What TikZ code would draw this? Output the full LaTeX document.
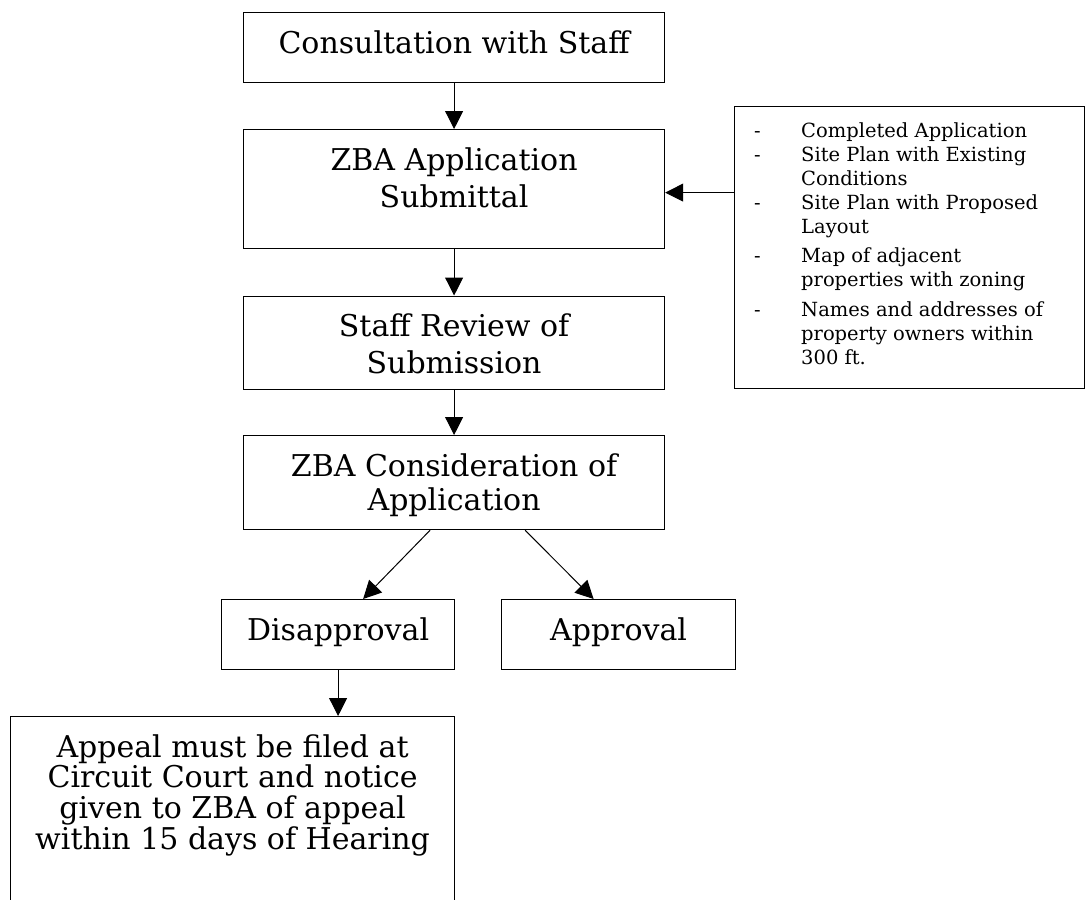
\documentclass[tikz,border=0pt]{standalone}
\usepackage{fontspec}
\setmainfont{DejaVu Serif}
\usetikzlibrary{arrows.meta,calc}
\newcommand{\bxt}[4]{\parbox[b][#2][t]{#1}{\centering\fontsize{30}{#3}\selectfont\rule{0pt}{40.5pt}#4\par}}
\begin{document}
\begin{tikzpicture}[x=1pt,y=-1pt,
  box/.style={draw=black, line width=1.2pt, inner sep=0pt, anchor=north west},
  arr/.style={draw=black, line width=1pt, -{Triangle[length=18pt,width=18pt]}}]
\clip (0,0) rectangle (1085,900);
\node[box] (cons) at (243,12) {\bxt{421pt}{70pt}{34pt}{Consultation with Staff}};
\node[box] (app) at (243,129) {\bxt{421pt}{119pt}{37.7pt}{ZBA Application\\Submittal}};
\node[box] (staff) at (243,295.5) {\bxt{421pt}{93pt}{36.7pt}{Staff Review of\\Submission}};
\node[box] (zcons) at (243,435) {\bxt{421pt}{94pt}{34.3pt}{ZBA Consideration of\\Application}};
\node[box] (dis) at (221,599) {\bxt{233pt}{70pt}{34pt}{Disapproval}};
\node[box] (appr) at (501,599) {\bxt{234pt}{70pt}{34pt}{Approval}};
\node[box] (appeal) at (10,716) {\bxt{444pt}{220pt}{30.7pt}{Appeal must be filed at\\Circuit Court and notice\\given to ZBA of appeal\\within 15 days of Hearing}};
\node[box, minimum width=350pt, minimum height=282pt] (req) at (734,106) {};
\node[anchor=north west, inner sep=0pt, font=\fontsize{19.5}{24}\selectfont] (reqtext) at (754,120.2) {%
\begin{tabular}{@{}p{47pt}@{}l@{}}
- & Completed Application\\
- & Site Plan with Existing\\
  & Conditions\\
- & Site Plan with Proposed\\
  & Layout\\[5pt]
- & Map of adjacent\\
  & properties with zoning\\[6pt]
- & Names and addresses of\\
  & property owners within\\
  & 300 ft.
\end{tabular}};
\draw[arr] (cons.south) -- (app.north);
\draw[arr] (app.south) -- (staff.north);
\draw[arr] (staff.south) -- (zcons.north);
\draw[arr] ([xshift=-24pt]zcons.south) -- ([xshift=25pt]dis.north);
\draw[arr] ([xshift=71pt]zcons.south) -- ([xshift=-25pt]appr.north);
\draw[arr] (dis.south) -- (dis.south |- appeal.north);
\coordinate (sa) at ([yshift=-3.5pt]app.east);
\draw[arr] (req.west |- sa) -- (sa);
\end{tikzpicture}
\end{document}
